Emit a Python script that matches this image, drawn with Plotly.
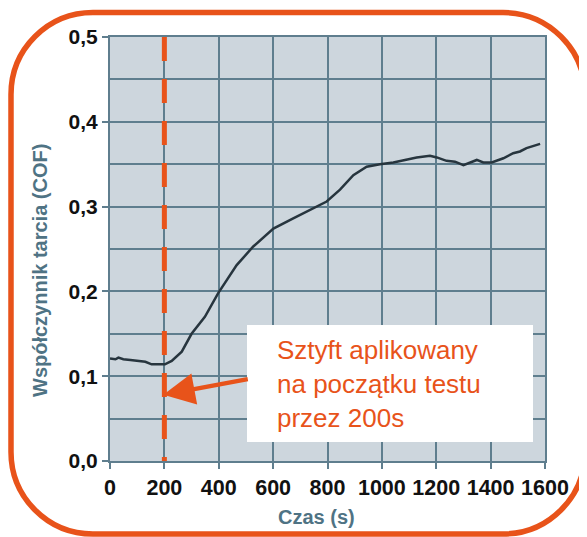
import plotly.graph_objects as go

# ---- data ----
time_s = [0, 20, 31, 49, 75, 104, 130, 153, 180, 202, 227, 264, 300, 349, 398, 466, 527,
          601, 674, 748, 797, 846, 895, 944, 993, 1042, 1091, 1128, 1177, 1202, 1238,
          1269, 1300, 1324, 1349, 1373, 1404, 1447, 1483, 1508, 1532, 1582]
cof = [0.121, 0.120, 0.122, 0.120, 0.119, 0.118, 0.117, 0.114, 0.114, 0.114, 0.118, 0.129,
       0.150, 0.170, 0.198, 0.231, 0.253, 0.274, 0.286, 0.298, 0.306, 0.320, 0.337,
       0.347, 0.350, 0.352, 0.355, 0.358, 0.360, 0.358, 0.354, 0.353, 0.349, 0.352,
       0.355, 0.352, 0.352, 0.357, 0.363, 0.365, 0.369, 0.374]
x_ticks = [0, 200, 400, 600, 800, 1000, 1200, 1400, 1600]
x_ticktext = ["0", "200", "400", "600", "800", "1000", "1200", "1400", "1600"]
y_ticks = [0.0, 0.1, 0.2, 0.3, 0.4, 0.5]
y_ticktext = ["0,0", "0,1", "0,2", "0,3", "0,4", "0,5"]
y_minor = [0.05, 0.15, 0.25, 0.35, 0.45]
marker_time = 200
x_title = "Czas (s)"
y_title = "Współczynnik tarcia (COF)"
note_text = "Sztyft aplikowany<br>na początku testu<br>przez 200s"

# ---- layout geometry (page pixels; the page body adds an 8px offset) ----
OFF = 8
W, H = 587 - OFF, 537 - OFF
PL, PR, PT, PB = 110, 545, 37, 461        # plot area in page pixels
L, T = PL - OFF, PT - OFF
R, B = W - (PR - OFF), H - (PB - OFF)
PW, PH = PR - PL, PB - PT

def px(x):
    return (x - PL) / PW

def py(y):
    return (PB - y) / PH

ORANGE = "#e8531a"
GRID = "#5f7e8e"
TITLE = "#4f7384"
FONT = "Arial, Liberation Sans, sans-serif"

fig = go.Figure()
fig.add_trace(go.Scatter(x=time_s, y=cof, mode="lines",
                         line=dict(color="#27353e", width=2.5), showlegend=False,
                         hoverinfo="skip"))

def rounded_rect(x0, y0, x1, y1, r):
    k = 0.5523 * r
    def P(x, y):
        return f"{px(x):.5f},{py(y):.5f}"
    d = f"M {P(x0 + r, y0)} L {P(x1 - r, y0)} "
    d += f"C {P(x1 - r + k, y0)} {P(x1, y0 + r - k)} {P(x1, y0 + r)} "
    d += f"L {P(x1, y1 - r)} "
    d += f"C {P(x1, y1 - r + k)} {P(x1 - r + k, y1)} {P(x1 - r, y1)} "
    d += f"L {P(x0 + r, y1)} "
    d += f"C {P(x0 + r - k, y1)} {P(x0, y1 - r + k)} {P(x0, y1 - r)} "
    d += f"L {P(x0, y0 + r)} "
    d += f"C {P(x0, y0 + r - k)} {P(x0 + r - k, y0)} {P(x0 + r, y0)} Z"
    return d

shapes = [
    dict(type="path", xref="paper", yref="paper", path=rounded_rect(11, 12.5, 585, 534, 82),
         line=dict(color=ORANGE, width=5.5), fillcolor="rgba(0,0,0,0)", layer="above"),
    dict(type="line", xref="x", yref="y", x0=marker_time, x1=marker_time, y0=0.5, y1=0,
         line=dict(color=ORANGE, width=5, dash="24px,18px"), layer="above"),
    dict(type="rect", xref="paper", yref="paper", x0=px(247), x1=px(533), y0=py(442), y1=py(325),
         fillcolor="white", line=dict(width=0), layer="above"),
]

annotations = [
    dict(x=px(275), y=py(384), xref="paper", yref="paper", text=note_text, showarrow=False,
         xanchor="left", yanchor="middle", align="left",
         font=dict(family=FONT, size=26, color=ORANGE)),
    dict(x=196, y=0.078, xref="x", yref="y", ax=86, ay=-16, text="", showarrow=True,
         arrowhead=2, arrowsize=1.4, arrowwidth=4.5, arrowcolor=ORANGE, standoff=0),
    dict(x=px(316), y=py(517), xref="paper", yref="paper", text=f"<b>{x_title}</b>",
         showarrow=False, xanchor="center", yanchor="middle",
         font=dict(family=FONT, size=20, color=TITLE)),
    dict(x=px(40), y=py(271), xref="paper", yref="paper", text=f"<b>{y_title}</b>",
         showarrow=False, xanchor="center", yanchor="middle", textangle=-90,
         font=dict(family=FONT, size=20, color=TITLE)),
]

fig.update_layout(
    width=W, height=H, margin=dict(l=L, r=R, t=T, b=B, pad=0),
    paper_bgcolor="white", plot_bgcolor="#cdd6dd",
    shapes=shapes, annotations=annotations, showlegend=False,
    font=dict(family=FONT),
)
fig.update_xaxes(range=[0, 1600], tickvals=x_ticks,
                 ticktext=[f"<b>{t}</b>" for t in x_ticktext],
                 showgrid=True, gridcolor=GRID, gridwidth=2,
                 showline=True, linecolor=GRID, linewidth=2, mirror=True,
                 ticks="outside", ticklen=6, tickwidth=2, tickcolor=GRID,
                 tickfont=dict(family=FONT, size=21.5, color="#111"), zeroline=False,
                 fixedrange=True)
fig.update_yaxes(range=[0, 0.5], tickvals=y_ticks,
                 ticktext=[f"<b>{t}</b>" for t in y_ticktext],
                 showgrid=True, gridcolor=GRID, gridwidth=2,
                 minor=dict(tickvals=y_minor, showgrid=True,
                            gridcolor=GRID, gridwidth=2, ticks=""),
                 showline=True, linecolor=GRID, linewidth=2, mirror=True,
                 ticks="outside", ticklen=6, tickwidth=2, tickcolor=GRID,
                 tickfont=dict(family=FONT, size=21, color="#111"), zeroline=False,
                 fixedrange=True)

fig.write_html("out.html")
